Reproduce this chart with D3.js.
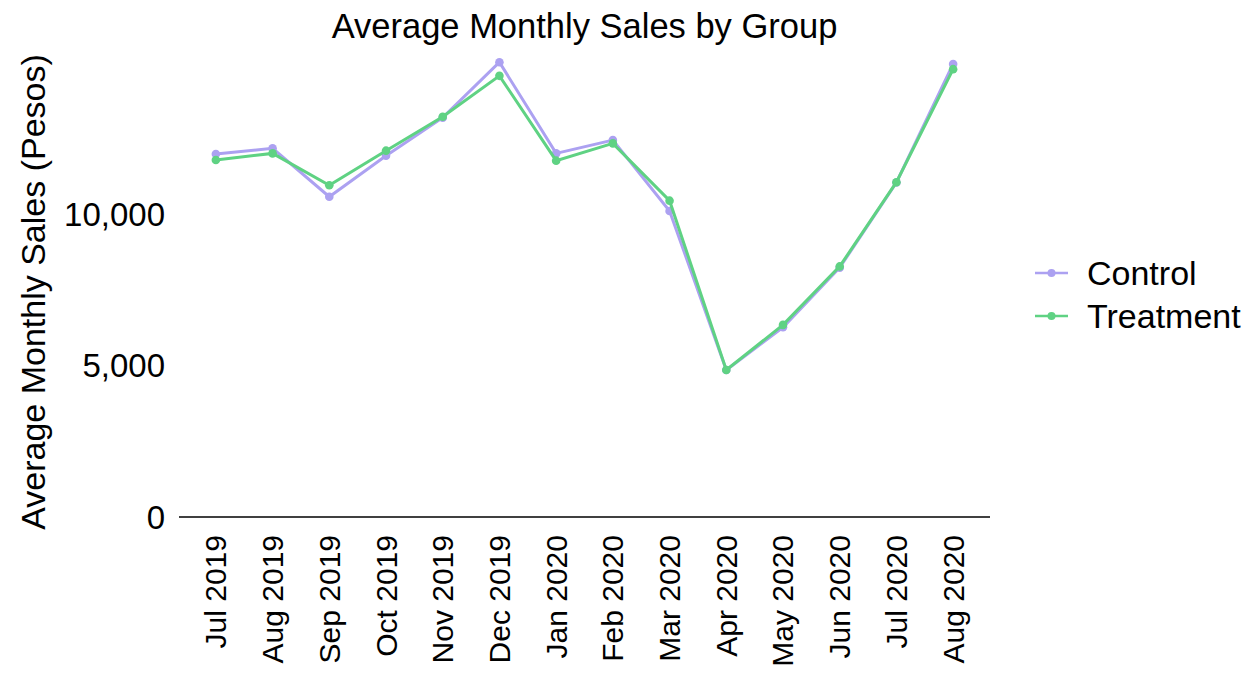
<!DOCTYPE html>
<html>
<head>
<meta charset="utf-8">
<script src="https://cdn.jsdelivr.net/npm/d3@7"></script>
<style>
  body { margin: 0; background: #fff; }
  text { font-family: "Liberation Sans", Arial, sans-serif; fill: #000; }
</style>
</head>
<body>
<div id="chart"></div>
<script>
// data
var months = ["Jul 2019", "Aug 2019", "Sep 2019", "Oct 2019", "Nov 2019", "Dec 2019",
  "Jan 2020", "Feb 2020", "Mar 2020", "Apr 2020", "May 2020", "Jun 2020", "Jul 2020", "Aug 2020"];
var control = [11980, 12170, 10570, 11920, 13180, 15010, 12000, 12440, 10100, 4850, 6260, 8230, 11040, 14950];
var treatment = [11780, 12000, 10950, 12090, 13210, 14560, 11760, 12330, 10440, 4850, 6340, 8270, 11050, 14780];
var yTicks = [0, 5000, 10000];
var groups = ["Control", "Treatment"];
var colors = ["#aca1f1", "#5fd283"];

var width = 1254, height = 673;
var margin = {left: 179, right: 990, top: 62.5, bottom: 517};

var svg = d3.select("#chart").append("svg")
  .attr("width", width)
  .attr("height", height);

var xScale = d3.scalePoint().domain(months).range([margin.left, margin.right]).padding(0.65);
var yScale = d3.scaleLinear().domain([0, 15000]).range([margin.bottom, margin.top]);

// title
svg.append("text")
  .attr("x", (margin.left + margin.right) / 2)
  .attr("y", 38)
  .attr("text-anchor", "middle")
  .style("font-size", "34.5px")
  .text("Average Monthly Sales by Group");

// x axis line + labels
svg.append("line")
  .attr("x1", margin.left).attr("x2", margin.right)
  .attr("y1", margin.bottom).attr("y2", margin.bottom)
  .style("stroke", "#000").style("stroke-width", 1.3);

svg.selectAll(".xlab")
  .data(months)
  .enter().append("text")
  .attr("class", "xlab")
  .attr("transform", d => "translate(" + xScale(d) + ",535) rotate(-90)")
  .attr("text-anchor", "end")
  .attr("dy", "0.35em")
  .style("font-size", "30px")
  .text(d => d);

// y labels (no axis line in the reference)
svg.selectAll(".ylab")
  .data(yTicks)
  .enter().append("text")
  .attr("class", "ylab")
  .attr("x", 165)
  .attr("y", d => yScale(d))
  .attr("dy", "0.35em")
  .attr("text-anchor", "end")
  .style("font-size", "33px")
  .text(d => d3.format(",")(d));

svg.append("text")
  .attr("transform", "translate(33,292) rotate(-90)")
  .attr("text-anchor", "middle")
  .attr("dy", "0.35em")
  .style("font-size", "34px")
  .text("Average Monthly Sales (Pesos)");

// lines and points
var line = d3.line()
  .x((d, i) => xScale(months[i]))
  .y(d => yScale(d));

[control, treatment].forEach(function(series, k) {
  svg.append("path")
    .datum(series)
    .attr("d", line)
    .style("fill", "none")
    .style("stroke", colors[k])
    .style("stroke-width", 3);

  svg.selectAll(".dot" + k)
    .data(series)
    .enter().append("circle")
    .attr("class", "dot" + k)
    .attr("r", 4.3)
    .attr("cx", (d, i) => xScale(months[i]))
    .attr("cy", d => yScale(d))
    .style("fill", colors[k]);
});

// legend
var legend = svg.selectAll(".legend")
  .data(groups)
  .enter().append("g")
  .attr("class", "legend")
  .attr("transform", (d, i) => "translate(1035," + (273 + i * 43) + ")");

legend.append("line")
  .attr("x1", 0).attr("x2", 33)
  .style("stroke", (d, i) => colors[i])
  .style("stroke-width", 2.6);

legend.append("circle")
  .attr("cx", 16.5)
  .attr("r", 4)
  .style("fill", (d, i) => colors[i]);

legend.append("text")
  .attr("x", 52)
  .attr("dy", "0.35em")
  .style("font-size", "34px")
  .text(d => d);
</script>
</body>
</html>
